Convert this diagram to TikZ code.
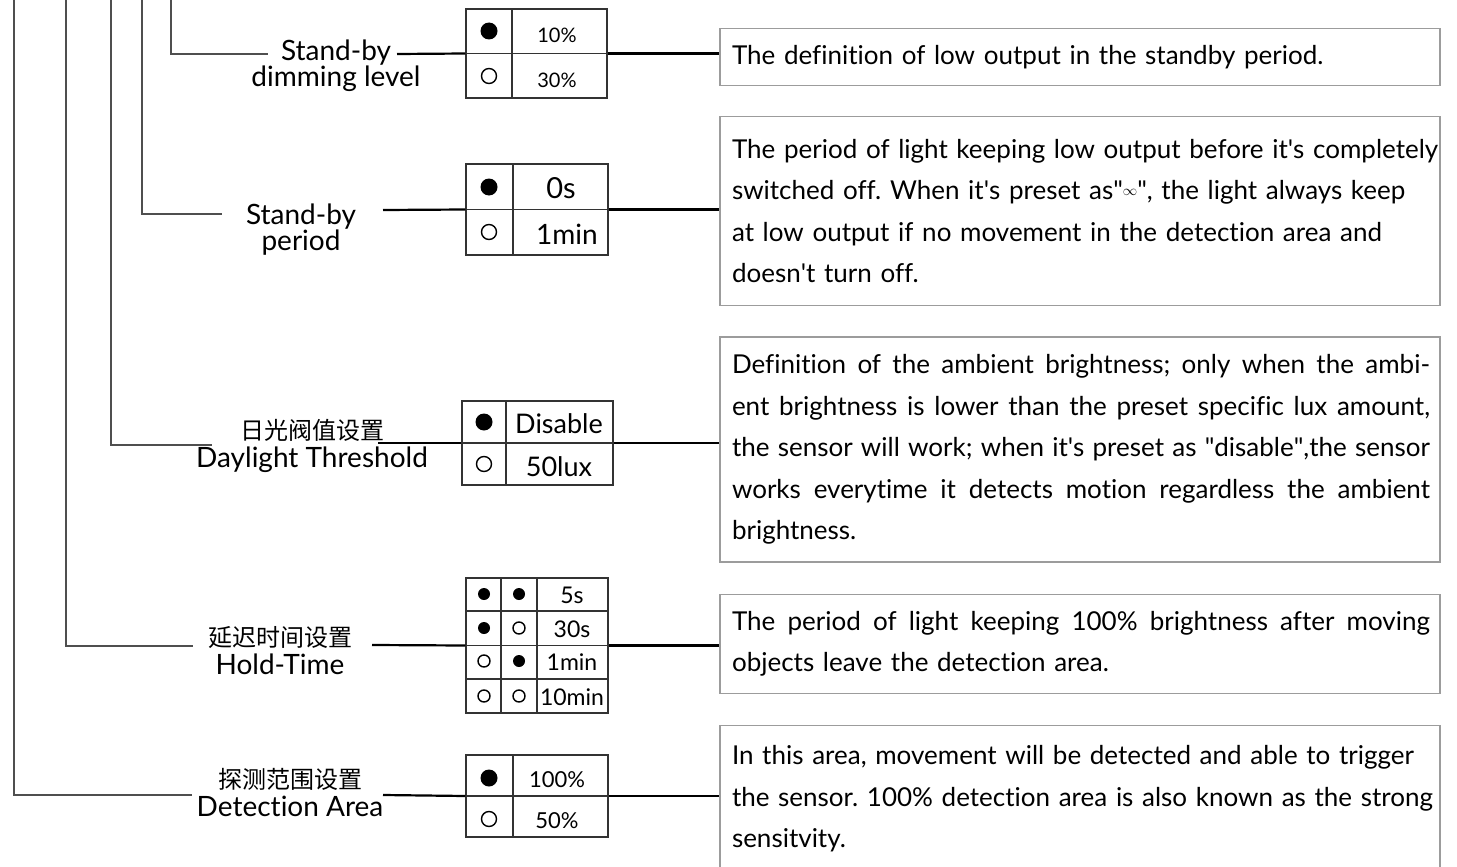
\documentclass[tikz,border=0pt]{standalone}
\usepackage{fontspec}
\setmainfont{Lato}[Ligatures=NoCommon]
\newfontfamily\cjk{Noto Sans CJK SC}
\usetikzlibrary{positioning}
\definecolor{treegray}{HTML}{4F4F4F}
\definecolor{boxgray}{HTML}{9C9C9C}
\definecolor{gridgray}{HTML}{333333}
\newcommand{\jline}[1]{{\spaceskip=\fontdimen2\font plus 1fil\makebox[698pt][s]{#1}}}
\newcommand{\rline}[1]{\mbox{#1}}
\newcommand{\qt}{\textquotedbl}
\newcommand{\ap}{\textquotesingle}
\frenchspacing
\tikzset{
  tree/.style={draw=treegray, line width=1.6pt},
  link/.style={draw=black, line width=2.2pt},
  grid/.style={draw=gridgray, line width=1.5pt},
  optbox/.style={grid, rectangle, inner sep=0pt},
  descbox/.style={
    rectangle, draw=boxgray, line width=1.5pt,
    minimum width=720pt, text width=696pt, align=left,
    inner xsep=12pt, font=\fontsize{26}{41.5}\selectfont
  },
  setting/.style={align=center, font=\fontsize{28}{26}\selectfont},
  cjksetting/.style={setting, font=\fontsize{28}{28}\selectfont},
  dip on/.style={circle, fill=black, inner sep=0pt, minimum size=17pt},
  dip off/.style={circle, draw=black, line width=1.4pt, inner sep=0pt, minimum size=15pt},
  opt/.style={inner sep=0pt}
}

\begin{document}
\begin{tikzpicture}[x=1pt, y=-1pt]
\useasboundingbox (0,0) rectangle (1457,867);

% setting names
\node[setting] (lab1) at (336,66) {Stand-by\\dimming level};
\node[setting] (lab2) at (301,230) {Stand-by\\period};
\node[cjksetting] (lab3) at (312,446) {{\cjk\fontsize{24}{28}\selectfont 日光阀值设置}\\Daylight Threshold};
\node[cjksetting] (lab4) at (280,651) {{\cjk\fontsize{24}{28}\selectfont 延迟时间设置}\\Hold-Time};
\node[cjksetting] (lab5) at (290,793) {{\cjk\fontsize{24}{28}\selectfont 探测范围设置}\\Detection Area};

% option tables
\node[optbox, minimum width=141pt, minimum height=89pt] (tab1) at (536.5,53.5) {};
\node[optbox, minimum width=142pt, minimum height=91pt] (tab2) at (537,209.5) {};
\node[optbox, minimum width=151pt, minimum height=84pt] (tab3) at (537.5,443) {};
\node[optbox, minimum width=142pt, minimum height=135pt] (tab4) at (537,645.5) {};
\node[optbox, minimum width=142pt, minimum height=82pt] (tab5) at (537,796) {};

\draw[grid] (tab1.west) -- (tab1.east) (512,9) -- (512,98);
\draw[grid] (tab2.west) -- (tab2.east) (513,164) -- (513,255);
\draw[grid] (tab3.west) -- (tab3.east) (506,401) -- (506,485);
\draw[grid] (tab4.west) -- (tab4.east) (466,611) -- (608,611) (466,679) -- (608,679)
  (501,578) -- (501,713) (537,578) -- (537,713);
\draw[grid] (tab5.west) -- (tab5.east) (513,755) -- (513,837);

% switch positions
\node[dip on] (s11) at (489,31) {};
\node[dip off] (s12) at (489,76) {};
\node[dip on] (s21) at (489,187) {};
\node[dip off] (s22) at (489,232) {};
\node[dip on] (s31) at (484,422) {};
\node[dip off] (s32) at (484,464) {};
\foreach \r/\y/\a/\b in {1/594/on/on, 2/628/on/off, 3/661/off/on, 4/696/off/off}{
  \node[dip \a, minimum size=12pt] (s4\r a) at (484,\y) {};
  \node[dip \b, minimum size=12pt] (s4\r b) at (519,\y) {};
}
\node[dip on] (s51) at (489,778) {};
\node[dip off] (s52) at (489,819) {};

\node[opt, font=\fontsize{20}{20}\selectfont] (v11) at (557,35) {10\%};
\node[opt, font=\fontsize{20}{20}\selectfont] (v12) at (557,80) {30\%};
\node[opt, font=\fontsize{29}{29}\selectfont] (v21) at (561,188) {0s};
\node[opt, font=\fontsize{28}{28}\selectfont] (v22) at (567,234) {1min};
\node[opt, font=\fontsize{27}{27}\selectfont] (v31) at (559,424) {Disable};
\node[opt, font=\fontsize{27}{27}\selectfont] (v32) at (559,467) {50lux};
\foreach \r/\y/\t in {1/595/5s, 2/629/30s, 3/662/1min, 4/697/10min}
  \node[opt, font=\fontsize{23}{23}\selectfont] (v4\r) at (572,\y) {\t};
\node[opt, font=\fontsize{22}{22}\selectfont] (v51) at (557,780) {100\%};
\node[opt, font=\fontsize{22}{22}\selectfont] (v52) at (557,821) {50\%};

% descriptions
\node[descbox, minimum height=57pt] (box1) at (1080,57)
  {\rline{The definition of low output in the standby period.}};
\node[descbox, minimum height=189pt] (box2) at (1080,211)
  {\rline{The period of light keeping low output before it\ap s completely}\\
   \rline{switched off. When it\ap s preset as\qt\raisebox{4pt}{\fontsize{15}{15}\selectfont$\infty$}\qt, the light always keep}\\
   \rline{at low output if no movement in the detection area and}\\
   \rline{doesn\ap t turn off.}};
\node[descbox, minimum height=225pt] (box3) at (1080,449.5)
  {\jline{Definition of the ambient brightness; only when the ambi-}\\
   \jline{ent brightness is lower than the preset specific lux amount,}\\
   \jline{the sensor will work; when it\ap s preset as \qt disable\qt,the sensor}\\
   \jline{works everytime it detects motion regardless the ambient}\\
   \rline{brightness.}};
\node[descbox, minimum height=99pt] (box4) at (1080,644)
  {\jline{The period of light keeping 100\% brightness after moving}\\
   \rline{objects leave the detection area.}};
\node[descbox, minimum height=147pt] (box5) at (1080,799)
  {\rline{In this area, movement will be detected and able to trigger}\\
   \rline{the sensor. 100\% detection area is also known as the strong}\\
   \rline{sensitvity.}};

% tree of settings
\coordinate (top1) at (171,0);
\coordinate (top2) at (142,0);
\coordinate (top3) at (111,0);
\coordinate (top4) at (66,0);
\coordinate (top5) at (14,0);
\coordinate (end1) at (268,54);
\coordinate (end2) at (222,214);
\coordinate (end3) at (212,445);
\coordinate (end4) at (193,646);
\coordinate (end5) at (192,795);
\foreach \i in {1,...,5}
  \draw[tree] (top\i) |- (end\i);

% connectors
\coordinate (from1) at (397,54);
\coordinate (from2) at (383,210);
\coordinate (from3) at (378,443);
\coordinate (from4) at (372,645);
\coordinate (from5) at (383,795);
\foreach \i in {1,...,5}{
  \draw[link] (from\i) -- (tab\i.west);
  \draw[link] (tab\i.east) -- (box\i.west |- tab\i.east);
}
\end{tikzpicture}
\end{document}
